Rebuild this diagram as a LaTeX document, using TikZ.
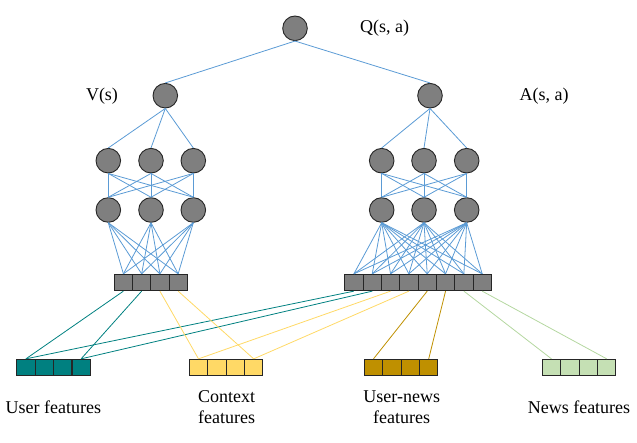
\documentclass[tikz,border=0pt]{standalone}
\usepackage{fontspec}
\setmainfont{Liberation Serif}
\definecolor{nblue}{RGB}{91,155,213}
\definecolor{ngray}{RGB}{127,127,127}
\definecolor{fteal}{RGB}{0,128,128}
\definecolor{fyellow}{RGB}{255,217,102}
\definecolor{fgold}{RGB}{191,144,0}
\definecolor{fgreen}{RGB}{197,224,180}
\definecolor{lgreen}{RGB}{180,215,160}
\tikzset{
  neuron/.style={circle, draw=black!85, line width=0.9pt, fill=ngray, minimum size=24.6pt, inner sep=0pt},
  cell/.style={rectangle, draw=black!85, line width=0.9pt, minimum width=18.3pt, minimum height=16.4pt, inner sep=0pt},
  hcell/.style={cell, fill=ngray},
  conn/.style={draw=nblue, line width=0.8pt},
  feat/.style={line width=0.8pt},
  lbl/.style={font=\fontsize{18}{21.5}\selectfont, inner sep=0pt, align=center}
}
\begin{document}
\begin{tikzpicture}[x=1pt,y=-1pt]
\useasboundingbox (0,0) rectangle (637,443);
% neurons
\node[neuron] (Q) at (295,28.3) {};
\node[neuron] (V) at (165.3,95.7) {};
\node[neuron] (A) at (430,95.7) {};
\foreach \i/\x in {1/108.3,2/151,3/193.3}{
  \node[neuron] (La\i) at (\x,160.7) {};
  \node[neuron] (Lb\i) at (\x,210) {};
}
\foreach \i/\x in {1/381.7,2/424,3/466.7}{
  \node[neuron] (Ra\i) at (\x,160.7) {};
  \node[neuron] (Rb\i) at (\x,210) {};
}
% hidden cells
\foreach \i in {1,...,4}{
  \node[hcell] (Lc\i) at ({123.4+18.25*(\i-1)},282.5) {};
}
\foreach \i in {1,...,8}{
  \node[hcell] (Rc\i) at ({353.9+18.33*(\i-1)},282.5) {};
}
% feature cells
\foreach \i in {1,...,4}{
  \node[cell, fill=fteal] (U\i) at ({25.9+18.4*(\i-1)},367.5) {};
  \node[cell, fill=fyellow] (C\i) at ({198.5+18.4*(\i-1)},367.5) {};
  \node[cell, fill=fgold] (N\i) at ({373.5+18.4*(\i-1)},367.5) {};
  \node[cell, fill=fgreen] (W\i) at ({551.5+18.4*(\i-1)},367.5) {};
}
% labels
\node[lbl] (lq) at (384.7,28.3) {Q(s, a)};
\node[lbl] (lv) at (102,95.7) {V(s)};
\node[lbl] (la) at (544,95.7) {A(s, a)};
\node[lbl] (lu) at (53.3,407) {User features};
\node[lbl] (lc) at (226.7,407) {Context\\features};
\node[lbl] (ln) at (401.7,407) {User-news\\features};
\node[lbl] (lw) at (579,407) {News features};
% network connections
\draw[conn] (Q.south) -- (V.north);
\draw[conn] (Q.south) -- (A.north);
\foreach \i in {1,2,3}{
  \draw[conn] (V.south) -- (La\i.north);
  \draw[conn] (A.south) -- (Ra\i.north);
  \foreach \j in {1,2,3}{
    \draw[conn] (La\i.south) -- (Lb\j.north);
    \draw[conn] (Ra\i.south) -- (Rb\j.north);
  }
  \foreach \j in {1,...,4}{
    \draw[conn] (Lb\i.south) -- (Lc\j.north);
  }
  \foreach \j in {1,...,8}{
    \draw[conn] (Rb\i.south) -- (Rc\j.north);
  }
}
% feature connections
\draw[feat, fteal] (Lc1.south) -- (U1.north);
\draw[feat, fteal] (Lc2.south) -- (U4.north);
\draw[feat, fteal] (Rc1.south) -- (U1.north);
\draw[feat, fteal] (Rc2.south) -- (U4.north);
\draw[feat, fyellow] (Lc3.south) -- (C1.north);
\draw[feat, fyellow] (Lc4.south) -- (C4.north);
\draw[feat, fyellow] (Rc3.south) -- (C1.north);
\draw[feat, fyellow] (Rc4.south) -- (C4.north);
\draw[feat, fgold] (Rc5.south) -- (N1.north);
\draw[feat, fgold] (Rc6.south) -- (N4.north);
\draw[feat, lgreen] (Rc7.south) -- (W1.north);
\draw[feat, lgreen] (Rc8.south) -- (W4.north);
\end{tikzpicture}
\end{document}
